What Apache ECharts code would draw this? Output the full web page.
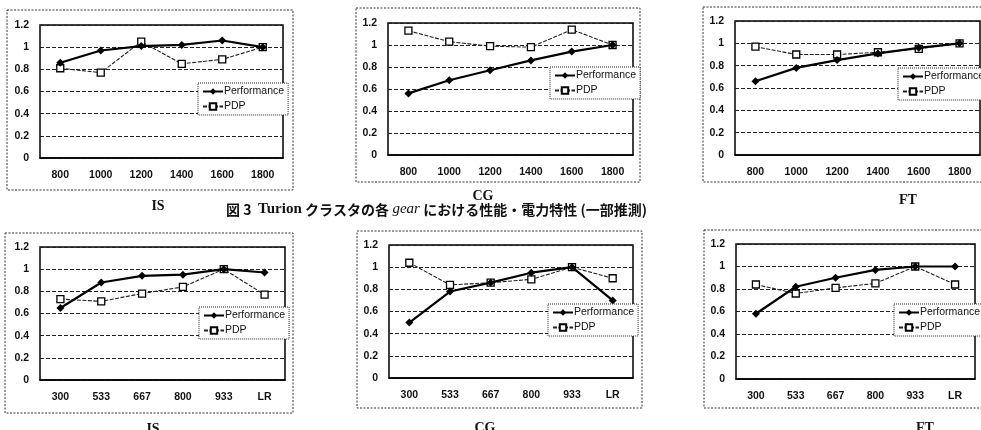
<!DOCTYPE html>
<html>
<head>
<meta charset="utf-8">
<script src="https://cdn.jsdelivr.net/npm/echarts@6/dist/echarts.min.js"></script>
<style>
  html, body { margin: 0; padding: 0; background: #fff; }
  #chart { width: 981px; height: 430px; }
</style>
</head>
<body>
<div id="chart"></div>
<script>
// Frequency steps (MHz) for the two clusters
const gearsTurion = ['800', '1000', '1200', '1400', '1600', '1800'];
const gearsOther = ['300', '533', '667', '800', '933', 'LR'];
const yTicks = [0, 0.2, 0.4, 0.6, 0.8, 1, 1.2];

// Normalised performance and PDP per benchmark
const perfIS1 = [0.86, 0.97, 1.01, 1.02, 1.06, 1.0];
const pdpIS1  = [0.81, 0.77, 1.05, 0.85, 0.89, 1.0];
const perfCG1 = [0.56, 0.68, 0.77, 0.86, 0.94, 1.0];
const pdpCG1  = [1.13, 1.03, 0.99, 0.98, 1.14, 1.0];
const perfFT1 = [0.66, 0.78, 0.85, 0.91, 0.96, 1.0];
const pdpFT1  = [0.97, 0.90, 0.90, 0.92, 0.95, 1.0];

const perfIS2 = [0.65, 0.88, 0.94, 0.95, 1.0, 0.97];
const pdpIS2  = [0.73, 0.71, 0.78, 0.84, 1.0, 0.77];
const perfCG2 = [0.50, 0.78, 0.86, 0.95, 1.0, 0.70];
const pdpCG2  = [1.04, 0.84, 0.86, 0.89, 1.0, 0.90];
const perfFT2 = [0.58, 0.82, 0.90, 0.97, 1.0, 1.0];
const pdpFT2  = [0.84, 0.76, 0.81, 0.85, 1.0, 0.84];

const panelNames = ['IS', 'CG', 'FT', 'IS', 'CG', 'FT'];

const panels = [
  { cats: gearsTurion, perf: perfIS1, pdp: pdpIS1, grid: [40, 25, 243, 133], box: [7, 10, 286, 180], legend: [198, 83], title: [153, 194] },
  { cats: gearsTurion, perf: perfCG1, pdp: pdpCG1, grid: [388, 23, 245, 132], box: [356, 8, 284, 174], legend: [550, 67], title: [478, 184] },
  { cats: gearsTurion, perf: perfFT1, pdp: pdpFT1, grid: [735, 21, 245, 134], box: [703, 7, 290, 175], legend: [898, 68], title: [903, 188] },
  { cats: gearsOther, perf: perfIS2, pdp: pdpIS2, grid: [40, 247, 245, 133], box: [5, 233, 288, 180], legend: [199, 307], title: [148, 417] },
  { cats: gearsOther, perf: perfCG2, pdp: pdpCG2, grid: [389, 245, 244, 133], box: [357, 231, 285, 177], legend: [548, 304], title: [480, 416] },
  { cats: gearsOther, perf: perfFT2, pdp: pdpFT2, grid: [736, 244, 239, 135], box: [704, 230, 290, 178], legend: [894, 304], title: [920, 416] }
];

const ink = '#111';
const grid = [], xAxis = [], yAxis = [], series = [], legend = [], title = [], graphic = [];

panels.forEach((p, i) => {
  grid.push({
    left: p.grid[0], top: p.grid[1], width: p.grid[2], height: p.grid[3],
    show: true, borderColor: '#000', borderWidth: 1.5, backgroundColor: 'transparent'
  });
  xAxis.push({
    type: 'category', gridIndex: i, data: p.cats, boundaryGap: true,
    axisLine: { lineStyle: { color: '#000', width: 1.5 } },
    axisTick: { show: false },
    axisLabel: { color: ink, fontFamily: 'Liberation Sans', fontWeight: 'bold', fontSize: 10.5, margin: 12 }
  });
  yAxis.push({
    type: 'value', gridIndex: i, min: yTicks[0], max: yTicks[yTicks.length - 1], interval: 0.2,
    axisLine: { show: false }, axisTick: { show: false },
    axisLabel: { color: ink, fontFamily: 'Liberation Sans', fontWeight: 'bold', fontSize: 10.5, margin: 11 },
    splitLine: { lineStyle: { color: '#222', type: [4, 2], width: 1 } }
  });
  series.push({
    name: 'Performance', type: 'line', xAxisIndex: i, yAxisIndex: i, data: p.perf,
    symbol: 'diamond', symbolSize: 8, z: 3,
    lineStyle: { color: '#000', width: 2.2 },
    itemStyle: { color: '#000' }
  });
  series.push({
    name: 'PDP', type: 'line', xAxisIndex: i, yAxisIndex: i, data: p.pdp,
    symbol: 'rect', symbolSize: 7, z: 2,
    lineStyle: { color: '#222', width: 1.1, type: [4, 1.5] },
    itemStyle: { color: '#fff', borderColor: '#000', borderWidth: 1.3 }
  });
  legend.push({
    data: ['Performance', 'PDP'], orient: 'vertical',
    left: p.legend[0], top: p.legend[1],
    padding: [3, 4, 3, 4], itemGap: 4, itemWidth: 20, itemHeight: 8,
    backgroundColor: '#fff', borderColor: '#222', borderWidth: 1, borderType: 'dotted',
    textStyle: { color: ink, fontFamily: 'Liberation Sans', fontSize: 10.5, padding: [0, 0, 0, -4] }
  });
  title.push({
    text: panelNames[i], left: p.title[0], top: p.title[1], textAlign: 'center', z: 12,
    textStyle: { color: ink, fontFamily: 'Liberation Serif', fontWeight: 'bold', fontSize: 14 }
  });
  graphic.push({
    type: 'rect', silent: true, z: -1,
    shape: { x: p.box[0], y: p.box[1], width: p.box[2], height: p.box[3] },
    style: { fill: 'none', stroke: '#333', lineWidth: 1, lineDash: [2, 1.5] }
  });
});

// Figure caption
graphic.push({
  type: 'text', left: 226, top: 202, z: 10,
  style: {
    text: '{b|図 3}  {s|Turion} {b|クラスタの各} {i|gear} {b|における性能・電力特性 (一部推測)}',
    rich: {
      b: { fontFamily: 'Noto Sans CJK JP', fontWeight: 'bold', fontSize: 14, fill: ink },
      s: { fontFamily: 'Liberation Serif', fontWeight: 'bold', fontSize: 15, fill: ink },
      i: { fontFamily: 'Liberation Serif', fontStyle: 'italic', fontSize: 15, fill: ink }
    }
  }
});

const chart = echarts.init(document.getElementById('chart'), null, { renderer: 'canvas' });
chart.setOption({
  animation: false,
  backgroundColor: '#fff',
  grid, xAxis, yAxis, series, legend, title, graphic
});
</script>
</body>
</html>
